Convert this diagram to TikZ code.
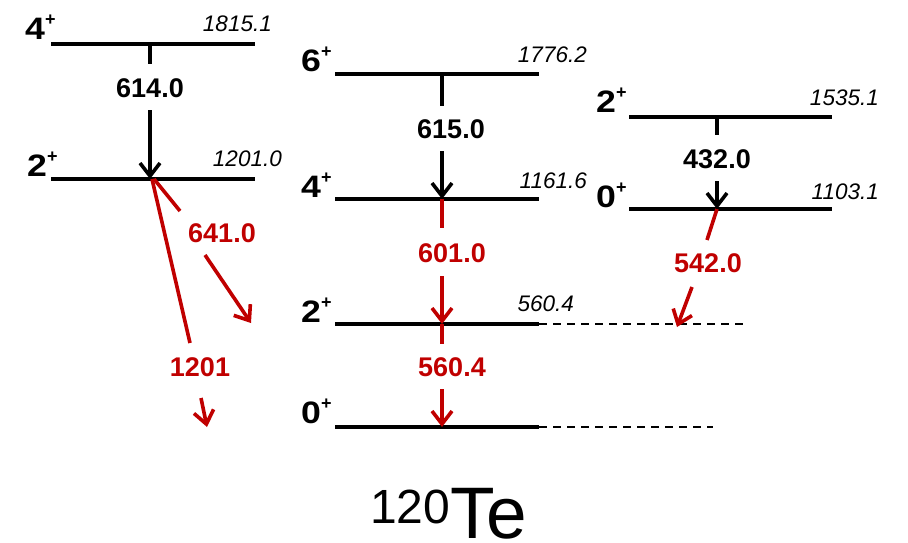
\documentclass[tikz,border=0pt]{standalone}
\usepackage{fontspec}
\usepackage{graphicx}
\setmainfont{Liberation Sans}
\usetikzlibrary{arrows.meta}
\definecolor{decayred}{RGB}{192,0,0}
% spin and parity: wide bold digit with a small raised sign
\newcommand{\jpi}[1]{\scalebox{1.15}[1]{#1}\raisebox{14pt}{\fontsize{18}{18}\selectfont\bfseries +}}
\begin{document}
\begin{tikzpicture}[x=1pt,y=-1pt,
  level/.style={line width=4.5pt},
  ghost/.style={line width=1.5pt, dash pattern=on 8pt off 6pt},
  gamma/.style={line width=3.6pt},
  gammatip/.style={gamma, -{Straight Barb[length=13pt,width=20pt]}},
  spin/.style={anchor=base west, inner sep=0, font=\fontsize{31}{33}\selectfont\bfseries},
  energy/.style={anchor=base east, inner sep=0, font=\fontsize{22.5}{24}\selectfont\itshape},
  elabel/.style={inner sep=0, font=\fontsize{27}{30}\selectfont\bfseries},
]
\useasboundingbox (0,0) rectangle (908,543);

% ---------- levels ----------
% ground band
\draw[level] (51,44) -- (255,44);
\draw[level] (51,179) -- (255,179);
% yrast band
\draw[level] (335,74) -- (539,74);
\draw[level] (335,199) -- (539,199);
\draw[level] (335,324) -- (539,324);
\draw[level] (335,427) -- (539,427);
\draw[ghost] (539,324) -- (745,324);
\draw[ghost] (539,427) -- (713,427);
% side band
\draw[level] (629,117) -- (832,117);
\draw[level] (629,209) -- (832,209);

% ---------- spin labels ----------
\node[spin] (sA4) at (25,40)  {\jpi{4}};
\node[spin] (sA2) at (27,176) {\jpi{2}};
\node[spin] (sB6) at (301,72) {\jpi{6}};
\node[spin] (sB4) at (301,197) {\jpi{4}};
\node[spin] (sB2) at (301,322) {\jpi{2}};
\node[spin] (sB0) at (301,423) {\jpi{0}};
\node[spin] (sC2) at (596,113) {\jpi{2}};
\node[spin] (sC0) at (596,207) {\jpi{0}};

% ---------- level energies ----------
\node[energy] (eA4) at (272,32)  {1815.1};
\node[energy] (eA2) at (282,166) {1201.0};
\node[energy] (eB6) at (587,63)  {1776.2};
\node[energy] (eB4) at (587,188) {1161.6};
\node[energy] (eB2) at (574,311) {560.4};
\node[energy] (eC2) at (879,106) {1535.1};
\node[energy] (eC0) at (879,199) {1103.1};

% ---------- transition end points ----------
\coordinate (a614) at (150,44);   \coordinate (a614g) at (150,64);
\coordinate (a614h) at (150,110); \coordinate (b614) at (150,179);
\coordinate (a615) at (442,74);   \coordinate (a615g) at (442,106);
\coordinate (a615h) at (442,151); \coordinate (b615) at (442,199);
\coordinate (a432) at (717,117);  \coordinate (a432g) at (717,135);
\coordinate (a432h) at (717,181); \coordinate (b432) at (717,209);
\coordinate (a601) at (442,199);  \coordinate (a601g) at (442,228);
\coordinate (a601h) at (442,276); \coordinate (b601) at (442,324);
\coordinate (a560) at (442,324);  \coordinate (a560g) at (442,344);
\coordinate (a560h) at (442,389); \coordinate (b560) at (442,427);
\coordinate (a542) at (717,209);  \coordinate (a542g) at (707,240);
\coordinate (a542h) at (692,287); \coordinate (b542) at (677,327);
\coordinate (a641) at (154,179);  \coordinate (a641g) at (180,211);
\coordinate (a641h) at (205,255); \coordinate (b641) at (251,323);
\coordinate (a1201) at (152,179); \coordinate (a1201g) at (190,343);
\coordinate (a1201h) at (201,398); \coordinate (b1201) at (207,427);

% ---------- red transitions ----------
\begin{scope}[decayred]
\draw[gamma] (a601) -- (a601g);
\draw[gammatip] (a601h) -- (b601);
\node[elabel] (g601) at (452,253) {601.0};
\draw[gamma] (a560) -- (a560g);
\draw[gammatip] (a560h) -- (b560);
\node[elabel] (g560) at (452,367) {560.4};
\draw[gamma] (a542) -- (a542g);
\draw[gammatip] (a542h) -- (b542);
\node[elabel] (g542) at (708,263) {542.0};
\draw[gamma] (a641) -- (a641g);
\draw[gammatip] (a641h) -- (b641);
\node[elabel] (g641) at (222,233) {641.0};
\draw[gamma] (a1201) -- (a1201g);
\draw[gammatip] (a1201h) -- (b1201);
\node[elabel] (g1201) at (200,367) {1201};
\end{scope}

% ---------- black transitions ----------
\draw[gamma] (a614) -- (a614g);
\draw[gammatip] (a614h) -- (b614);
\node[elabel] (g614) at (150,88) {614.0};
\draw[gamma] (a615) -- (a615g);
\draw[gammatip] (a615h) -- (b615);
\node[elabel] (g615) at (451,129) {615.0};
\draw[gamma] (a432) -- (a432g);
\draw[gammatip] (a432h) -- (b432);
\node[elabel] (g432) at (717,159) {432.0};

% ---------- nucleus ----------
\node[anchor=base west, inner sep=0] (nuc) at (370,538)
  {{\fontsize{48}{50}\selectfont\raisebox{15pt}{120}}{\fontsize{73}{76}\selectfont Te}};
\end{tikzpicture}
\end{document}
